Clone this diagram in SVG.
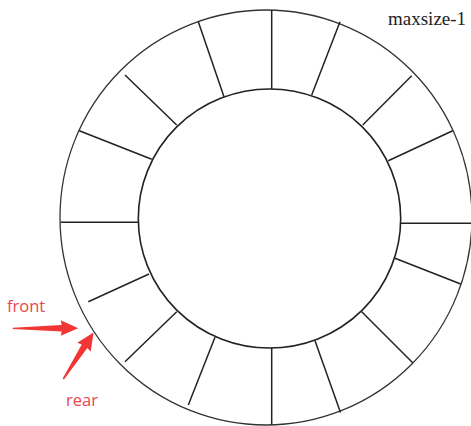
<svg xmlns="http://www.w3.org/2000/svg" width="471" height="426" viewBox="0 0 471 426">
<style>
.ring{fill:none;stroke:#333;stroke-width:1.3}
.inner{fill:none;stroke:#222;stroke-width:1.6}
.spoke{stroke:#222;stroke-width:1.5;fill:none}
.arrow{fill:#f23535;stroke:none}
.lbl{font-family:"Open Sans","Liberation Sans",sans-serif;font-size:16.5px;fill:#e8484a}
.title{font-family:"Liberation Serif","DejaVu Serif",serif;font-size:19px;fill:#222}
</style>
<rect width="471" height="426" fill="#fff"/>
<g id="ring">
<ellipse class="ring" cx="266" cy="217.5" rx="206" ry="207.5"/>
<ellipse class="inner" cx="269.5" cy="218.5" rx="131.2" ry="129.5"/>
</g>
<g id="spokes">
<line class="spoke" x1="271.7" y1="89" x2="271.7" y2="10"/>
<line class="spoke" x1="224" y1="96.7" x2="198.3" y2="21.7"/>
<line class="spoke" x1="176.7" y1="125" x2="125" y2="75"/>
<line class="spoke" x1="151.7" y1="159.3" x2="79.3" y2="130.7"/>
<line class="spoke" x1="138.3" y1="222.3" x2="60.7" y2="222.3"/>
<line class="spoke" x1="149" y1="274" x2="88.3" y2="301.7"/>
<line class="spoke" x1="176.7" y1="311.7" x2="125" y2="361.7"/>
<line class="spoke" x1="215" y1="337.3" x2="188.3" y2="405"/>
<line class="spoke" x1="271.7" y1="347.7" x2="271.7" y2="425"/>
<line class="spoke" x1="315" y1="340.7" x2="340.5" y2="412.5"/>
<line class="spoke" x1="361.7" y1="311.7" x2="412.7" y2="362.7"/>
<line class="spoke" x1="395" y1="258.3" x2="460.7" y2="284"/>
<line class="spoke" x1="400.7" y1="223.3" x2="471" y2="223.3"/>
<line class="spoke" x1="388.3" y1="160.7" x2="452.7" y2="130.7"/>
<line class="spoke" x1="362.7" y1="125" x2="411.7" y2="75.7"/>
<line class="spoke" x1="311.7" y1="95" x2="340" y2="21.7"/>
</g>
<g id="title">
<text class="title" x="388" y="25">maxsize-1</text>
</g>
<g id="front">
<text class="lbl" x="7" y="312">front</text>
</g>
<g id="rear">
<text class="lbl" x="66" y="406">rear</text>
</g>
<g id="connectors">
<polygon class="arrow" transform="translate(12.7,328.3)" points="0,-0.6 49,-3.3 48,-8 65.6,0 48,7.5 49,3.3 0,0.6"/>
<polygon class="arrow" transform="translate(63.3,379) rotate(-57)" points="0,-0.8 39,-3.3 38,-8 55.5,0 38,8 39,3.3 0,0.8"/>
</g>
</svg>
